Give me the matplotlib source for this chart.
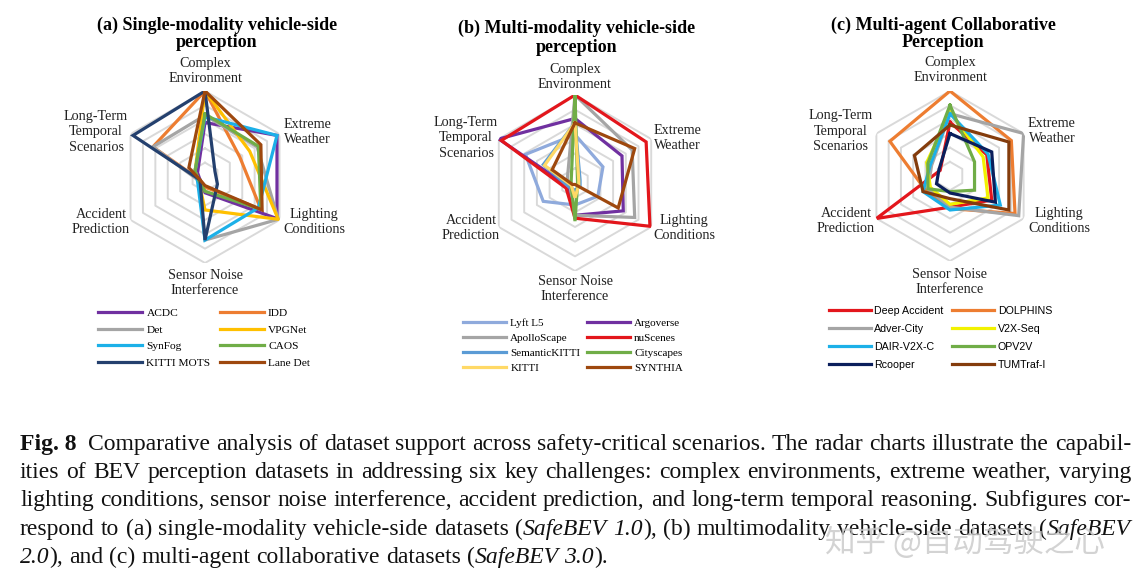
import numpy as np
import matplotlib
matplotlib.use('Agg')
import matplotlib.pyplot as plt
import matplotlib.transforms as mtransforms

W, H = 1146, 586

# ---- data (scores on a 0-6 scale, order of axes below) ----
axis_labels = ['Complex\nEnvironment', 'Extreme\nWeather', 'Lighting\nConditions',
               'Sensor Noise\nInterference', 'Accident\nPrediction', 'Long-Term\nTemporal\nScenarios']

# (a) single-modality vehicle-side
names_a = ['ACDC', 'IDD', 'Det', 'VPGNet', 'SynFog', 'CAOS', 'KITTI MOTS', 'Lane Det']
acdc = [3.8, 5.8, 5.8, 1.1, 0.4, 0.6]
idd = [6.0, 2.8, 4.5, 0.7, 0.4, 4.2]
det = [4.3, 4.2, 5.9, 4.4, 0.5, 4.2]
vpgnet = [6.0, 3.6, 5.9, 2.3, 0.5, 0.8]
synfog = [4.2, 5.8, 4.3, 4.4, 0.6, 0.8]
caos = [4.4, 4.3, 4.5, 1.0, 0.5, 0.8]
kitti_mots = [6.0, 0.8, 1.0, 4.4, 0.4, 5.8]
lane_det = [6.0, 4.5, 4.6, 0.6, 0.4, 1.3]
colors_a = ['#7030A0', '#ED7D31', '#A5A5A5', '#FFC000', '#1CB0E8', '#70AD47', '#24406E', '#9E480E']

# (b) multi-modality vehicle-side
names_b = ['Lyft L5', 'Argoverse', 'ApolloScape', 'nuScenes', 'SemanticKITTI', 'Cityscapes', 'KITTI', 'SYNTHIA']
lyft = [3.3, 2.2, 1.8, 1.5, 2.5, 3.9]
argoverse = [4.4, 3.7, 3.8, 2.2, 0.5, 6.0]
apollo = [6.0, 4.5, 4.7, 2.2, 0.4, 0.6]
nuscenes = [6.0, 5.6, 5.9, 2.4, 0.7, 5.8]
semantickitti = [4.1, 0.4, 0.4, 0.5, 0.5, 2.5]
cityscapes = [6.0, 0.2, 0.2, 2.6, 0.3, 0.3]
kitti = [4.1, 0.3, 0.3, 1.0, 0.3, 2.4]
synthia = [4.1, 4.7, 3.4, 0.1, 0.2, 1.8]
colors_b = ['#8FAADC', '#7030A0', '#A5A5A5', '#E3161C', '#5B9BD5', '#70AD47', '#FFD966', '#9E480E']

# (c) multi-agent collaborative
names_c = ['Deep Accident', 'DOLPHINS', 'Adver-City', 'V2X-Seq', 'DAIR-V2X-C', 'OPV2V', 'Rcooper', 'TUMTraf-I']
deep_acc = [3.8, 3.0, 3.4, 2.2, 6.0, 0.8]
dolphins = [6.0, 5.0, 5.3, 2.3, 2.0, 4.9]
adver = [4.4, 6.0, 5.6, 2.2, 1.8, 1.5]
v2xseq = [4.5, 2.7, 3.1, 2.0, 1.6, 1.9]
dair = [4.4, 3.1, 4.1, 2.4, 2.2, 1.6]
opv2v = [5.0, 2.0, 2.0, 1.1, 1.8, 1.8]
rcooper = [3.0, 3.4, 3.7, 1.2, 1.1, 0.9]
tumtraf = [3.6, 4.8, 4.8, 1.6, 2.2, 2.9]
colors_c = ['#E3161C', '#ED7D31', '#A5A5A5', '#F2F200', '#1CB0E8', '#70AD47', '#0B1F5C', '#843C0C']

titles = ['(a) Single-modality vehicle-side\nperception',
          '(b) Multi-modality vehicle-side\nperception',
          '(c) Multi-agent Collaborative\nPerception']

SERIF = 'Liberation Serif'
SANS = 'Liberation Sans'

fig = plt.figure(figsize=(W / 100, H / 100), dpi=100)
fig.patch.set_facecolor('white')


def px(x, y):
    return x / W, 1 - y / H


def radar(cx, cy, R, series, names, colors, title, title_xy, title_ls,
          leg_xy, leg_font, leg_size, leg_spacing, leg_colsp):
    ax = fig.add_axes([(cx - R) / W, 1 - (cy + R) / H, 2 * R / W, 2 * R / H], projection='polar')
    ax.set_theta_offset(np.pi / 2)
    ax.set_theta_direction(-1)
    ax.axis('off')
    ax.set_ylim(0, 6)
    ang = np.linspace(0, 2 * np.pi, 7)
    for k in range(1, 7):
        ax.plot(ang, [k] * 7, color='#D9D9D9', lw=1.4, zorder=0)
    lines = []
    for vals, nm, c in zip(series, names, colors):
        v = list(vals) + [vals[0]]
        ln, = ax.plot(ang, v, color=c, lw=2.3, label=nm, solid_joinstyle='miter')
        lines.append(ln)
    # axis labels
    offs = [(0, -106), (102, -45), (109, 45), (0, 106), (-104, 45), (-109, -45)]
    for lab, (dx, dy) in zip(axis_labels, offs):
        fig.text(*px(cx + dx, cy + dy), lab, ha='center', va='center', family=SERIF,
                 fontsize=10.2, linespacing=1.22, multialignment='center', color='#222222')
    fig.text(*px(*title_xy), title, ha='center', va='center', family=SERIF,
             fontweight='bold', fontsize=13, linespacing=title_ls)
    order = [0, 2, 4, 6, 1, 3, 5, 7]
    fig.legend([lines[i] for i in order], [names[i] for i in order], loc='upper left',
               bbox_to_anchor=px(*leg_xy), ncol=2, frameon=False,
               prop={'family': leg_font, 'size': leg_size}, handlelength=3.9,
               handletextpad=0.35, columnspacing=leg_colsp, labelspacing=leg_spacing,
               borderpad=0, borderaxespad=0)


radar(205, 177, 86, [acdc, idd, det, vpgnet, synfog, caos, kitti_mots, lane_det], names_a, colors_a,
      titles[0], (217, 34), 1.0, (98, 308), SERIF, 8.2, 0.58, 0.8)
radar(575, 183, 88, [lyft, argoverse, apollo, nuscenes, semantickitti, cityscapes, kitti, synthia],
      names_b, colors_b, titles[1], (577, 38), 1.15, (463, 318), SERIF, 8.0, 0.48, 0.6)
radar(950, 176, 85, [deep_acc, dolphins, adver, v2xseq, dair, opv2v, rcooper, tumtraf],
      names_c, colors_c, titles[2], (943, 34), 1.0, (829, 306), SANS, 7.7, 0.75, 0.8)

# ---- caption, justified line by line ----
caption = [
    "^Fig.~8^ Comparative analysis of dataset support across safety-critical scenarios. The radar charts illustrate the capabil-",
    "ities of BEV perception datasets in addressing six key challenges: complex environments, extreme weather, varying",
    "lighting conditions, sensor noise interference, accident prediction, and long-term temporal reasoning. Subfigures cor-",
    "respond to (a) single-modality vehicle-side datasets (_SafeBEV 1.0_), (b) multimodality vehicle-side datasets (_SafeBEV_",
    "_2.0_), and (c) multi-agent collaborative datasets (_SafeBEV 3.0_).",
]
cap_y = [443, 471, 499, 528, 556]
x0, x1 = 20, 1131
csize = 17
ident = mtransforms.IdentityTransform()
fig.canvas.draw()
renderer = fig.canvas.get_renderer()

italic = False
bold = False
for li, (line, yc) in enumerate(zip(caption, cap_y)):
    ybase = H - (yc + 7)
    words = []
    for w in line.split(' '):
        pieces = []
        cur = ''
        for ch in w:
            if ch in '_^':
                if cur:
                    pieces.append((cur, italic, bold))
                cur = ''
                if ch == '_':
                    italic = not italic
                else:
                    bold = not bold
            else:
                cur += ' ' if ch == '~' else ch
        if cur:
            pieces.append((cur, italic, bold))
        arts = []
        wid = 0
        for s, it, bd in pieces:
            t = fig.text(0, ybase, s, transform=ident, family=SERIF, fontsize=csize,
                         fontstyle='italic' if it else 'normal',
                         fontweight='bold' if bd else 'normal', va='baseline', color='#111111')
            bw = t.get_window_extent(renderer).width
            arts.append((t, bw))
            wid += bw
        words.append((arts, wid))
    total = sum(w for _, w in words)
    extra = 6 if li == 0 else 0
    if li < len(caption) - 1:
        gap = (x1 - x0 - total - extra) / (len(words) - 1)
    else:
        gap = csize * 100 / 72 * 0.25
    x = x0
    for wi, (arts, wid) in enumerate(words):
        xx = x
        for t, bw in arts:
            t.set_x(xx)
            xx += bw
        x += wid + gap + (extra if wi == 0 else 0)

# watermark
fig.text(*px(965, 543), '知乎 @自动驾驶之心', ha='center', va='center',
         family=['Noto Sans CJK SC', 'DejaVu Sans'], fontsize=22, color='#C8C8C8', alpha=0.8)

fig.savefig('out.png', dpi=100, facecolor='white')
